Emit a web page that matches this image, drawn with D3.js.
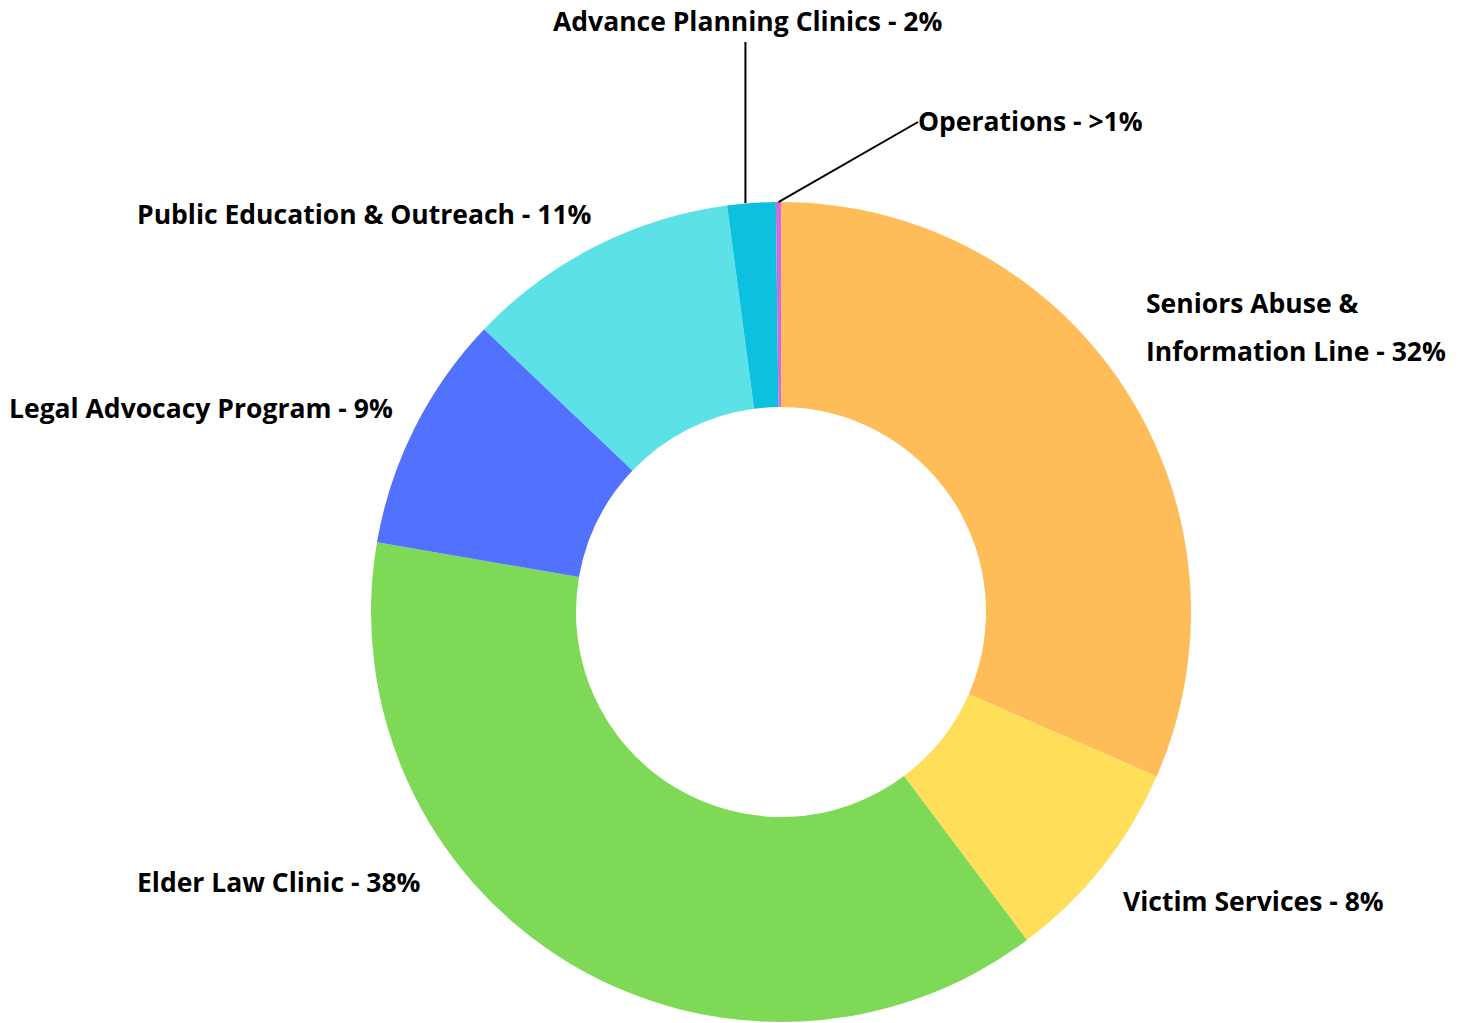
<!DOCTYPE html>
<html>
<head>
<meta charset="utf-8">
<script src="https://cdn.jsdelivr.net/npm/d3@7"></script>
<style>
  body { margin: 0; background: #fff; }
  text { font-family: "Open Sans", "Lato", sans-serif; font-weight: 700; font-size: 26.5px; fill: #000; }
</style>
</head>
<body>
<div id="vizDiv"></div>
<script>
var width = 1462
var height = 1023

// slices, clockwise from 12 o'clock
var categories = ["Seniors Abuse & Information Line", "Victim Services", "Elder Law Clinic",
  "Legal Advocacy Program", "Public Education & Outreach", "Advance Planning Clinics", "Operations"]
var values = [31.6, 8.2, 38.0, 9.4, 10.8, 1.9, 0.2]
var labels = [["Seniors Abuse &", "Information Line - 32%"], ["Victim Services - 8%"], ["Elder Law Clinic - 38%"],
  ["Legal Advocacy Program - 9%"], ["Public Education & Outreach - 11%"], ["Advance Planning Clinics - 2%"], ["Operations - >1%"]]
var colors = ["#FFBD59", "#FFDE59", "#7ED957", "#5271FF", "#5CE1E6", "#0CC0DF", "#CB6CE6"]

var cx = 781, cy = 612
var outerR = 410, innerR = 205

// label anchors (text start x, first baseline y), leader line flag
var labelPos = [[1146, 313], [1123, 911], [137, 892], [9, 418], [137, 224], [553, 31], [918, 131]]
var hasLeader = [false, false, false, false, false, true, true]

var svg = d3.select("#vizDiv")
  .append("svg")
  .attr("width", width)
  .attr("height", height)

var data = categories.map(function(c, i) { return { name: c, value: values[i] } })

var pie = d3.pie().value(function(d) { return d.value }).sort(null)
var arc = d3.arc().innerRadius(innerR).outerRadius(outerR)

var g = svg.append("g").attr("transform", "translate(" + cx + "," + cy + ")")

var arcs = pie(data)

g.selectAll("path")
  .data(arcs)
  .enter()
  .append("path")
  .attr("d", arc)
  .attr("fill", function(d, i) { return colors[i] })

// leader lines
arcs.forEach(function(d, i) {
  if (!hasLeader[i]) return
  var a = (d.startAngle + d.endAngle) / 2
  var px = cx + outerR * Math.sin(a)
  var py = cy - outerR * Math.cos(a)
  var lx, ly
  if (i == 5) {
    // vertical line up to the label
    lx = px - 6
    px = lx
    ly = 42
  } else {
    lx = labelPos[i][0]
    ly = labelPos[i][1] - 9
  }
  svg.append("line")
    .attr("x1", px).attr("y1", py)
    .attr("x2", lx).attr("y2", ly)
    .attr("stroke", "black")
    .attr("stroke-width", 2)
})

labels.forEach(function(lines, i) {
  var t = svg.append("text")
    .attr("x", labelPos[i][0])
    .attr("y", labelPos[i][1])
  lines.forEach(function(s, j) {
    t.append("tspan")
      .attr("x", labelPos[i][0])
      .attr("dy", j == 0 ? 0 : 48)
      .text(s)
  })
})
</script>
</body>
</html>
